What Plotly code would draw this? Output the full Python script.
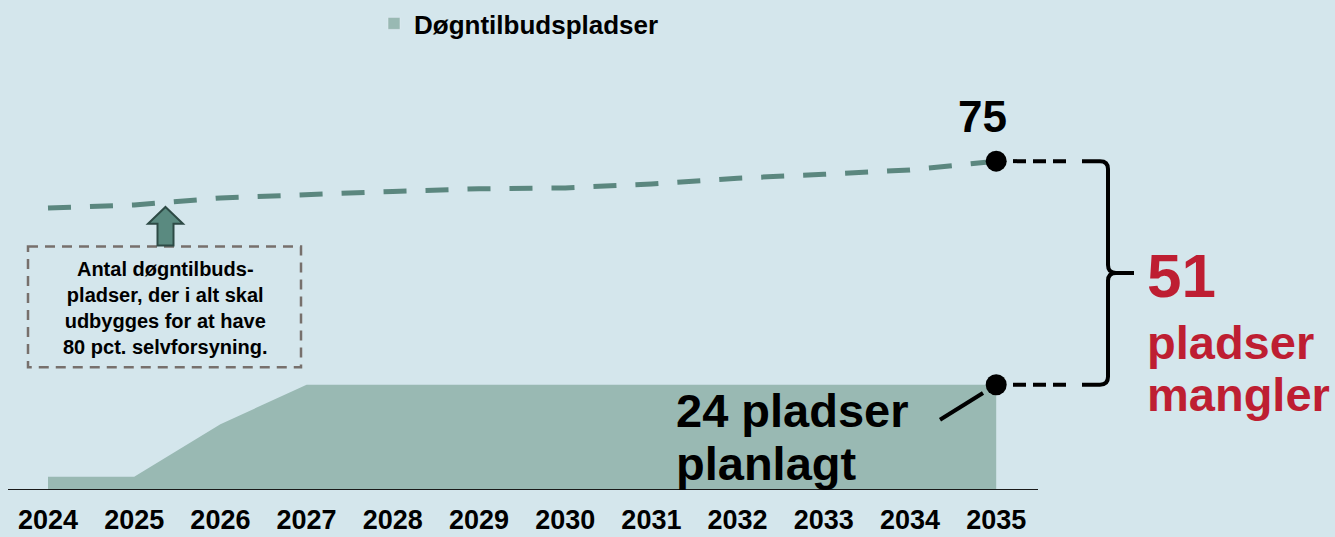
import plotly.graph_objects as go

# data
years = [2024, 2025, 2026, 2027, 2028, 2029, 2030, 2031, 2032, 2033, 2034, 2035]
planned = [3, 3, 15, 24, 24, 24, 24, 24, 24, 24, 24, 24]
needed = [64.3, 65.0, 66.6, 67.4, 68.1, 68.7, 68.9, 69.8, 71.1, 72.0, 73.0, 75]
tick_labels = [str(y) for y in years]

series_name = "Døgntilbudspladser"
box_text = "Antal døgntilbuds-<br>pladser, der i alt skal<br>udbygges for at have<br>80 pct. selvforsyning."

BG = "#d4e6ec"
AREA = "#99b9b3"
LINE = "#5b877f"
RED = "#be1e32"
FONT = "Liberation Sans"

W, H = 1335, 537
# pixel layout helpers (2024 at x=48px, one year = 86.2px, zero at y=490px)
X0_PX, X_STEP, BASE_PX, Y_STEP = 48, 86.2, 490, 4.43


def xd(px):
    return years[0] + (px - X0_PX) / X_STEP


def yd(py):
    return (BASE_PX - py) / Y_STEP


fig = go.Figure()

fig.add_trace(go.Scatter(
    x=years, y=planned, mode="lines", fill="tozeroy",
    line=dict(width=0, color=AREA), fillcolor=AREA,
    showlegend=False, hoverinfo="skip",
))
# legend swatch only
fig.add_trace(go.Bar(x=[None], y=[None], name=series_name, marker_color=AREA))

fig.add_trace(go.Scatter(
    x=years, y=needed, mode="lines",
    line=dict(color=LINE, width=5, dash="23px,19px"),
    showlegend=False, hoverinfo="skip",
))
fig.add_trace(go.Scatter(
    x=[years[-1], years[-1]], y=[needed[-1], planned[-1]], mode="markers",
    marker=dict(color="black", size=21), showlegend=False, hoverinfo="skip",
))

top, bot = needed[-1], planned[-1]
mid = (top + bot) / 2

shapes = []
# baseline
shapes.append(dict(type="line", x0=xd(8), x1=xd(1038), y0=0, y1=0,
                   line=dict(color="#1a1a1a", width=2)))
# dashed connectors to the brace
for v in (top, bot):
    shapes.append(dict(type="line", x0=xd(1013), x1=xd(1068), y0=v, y1=v,
                       line=dict(color="black", width=4, dash="13px,7px")))
# curly brace
xa, xb, xt = xd(1082), xd(1108), xd(1134)
rx, ry = 8 / X_STEP, 8 / Y_STEP
brace = (
    f"M {xa},{top} L {xb - rx},{top} Q {xb},{top} {xb},{top - ry} "
    f"L {xb},{mid + ry} Q {xb},{mid} {xb + rx},{mid} L {xt},{mid} "
    f"M {xb + rx},{mid} Q {xb},{mid} {xb},{mid - ry} "
    f"L {xb},{bot + ry} Q {xb},{bot} {xb - rx},{bot} L {xa},{bot}"
)
shapes.append(dict(type="path", path=brace, line=dict(color="black", width=4)))
# leader from label to the planned dot
shapes.append(dict(type="line", x0=xd(940), y0=yd(419), x1=xd(983), y1=yd(392),
                   line=dict(color="black", width=4)))
# dashed note box
shapes.append(dict(type="rect", x0=xd(28), x1=xd(301), y0=yd(244), y1=yd(366),
                   line=dict(color="#77706c", width=2.5, dash="10px,7px")))
# up arrow
arrow_pts = [(165.5, 204), (183, 221), (173.5, 221), (173.5, 243),
             (157.5, 243), (157.5, 221), (148, 221)]
arrow = "M " + " L ".join(f"{xd(px)},{yd(py)}" for px, py in arrow_pts) + " Z"
shapes.append(dict(type="path", path=arrow, fillcolor="#5a8a80",
                   line=dict(color="#2d4a45", width=2)))

ann = []


def text(px, py, s, size, color="black", xanchor="center"):
    ann.append(dict(x=xd(px), y=yd(py), text=s, showarrow=False,
                    xanchor=xanchor, yanchor="middle", align="center",
                    font=dict(family=FONT, size=size, color=color, weight="bold")))


text(982, 113, str(top), 44)
text(1145, 273, str(int(top - bot)), 62, RED, "left")
text(1145, 341, "pladser", 47, RED, "left")
text(1145, 394, "mangler", 47, RED, "left")
text(674, 410, f"{bot} pladser", 47, xanchor="left")
text(674, 463, "planlagt", 47, xanchor="left")
text(165, 306, box_text, 20)

fig.update_layout(
    width=W, height=H,
    margin=dict(l=0, r=0, t=0, b=H - BASE_PX),
    paper_bgcolor=BG, plot_bgcolor=BG,
    shapes=shapes, annotations=ann,
    legend=dict(orientation="h", x=374 / W, xanchor="left",
                y=1 + 6 / H, yanchor="top",
                font=dict(family=FONT, size=26, color="black", weight="bold"),
                bgcolor="rgba(0,0,0,0)"),
)
fig.update_xaxes(range=[xd(0), xd(W)], tickvals=years, ticktext=tick_labels,
                 showgrid=False, zeroline=False, showline=False, automargin=False,
                 ticks="outside", ticklen=6, tickcolor=BG,
                 tickfont=dict(family=FONT, size=27, color="black", weight="bold"))
fig.update_yaxes(range=[0, yd(0)], showgrid=False, zeroline=False,
                 showline=False, showticklabels=False, automargin=False)

# drop the page's default body margin so the chart fills the window
fig.write_html("out.html", config={"displayModeBar": False},
               post_script="document.body.style.margin = '0';")
